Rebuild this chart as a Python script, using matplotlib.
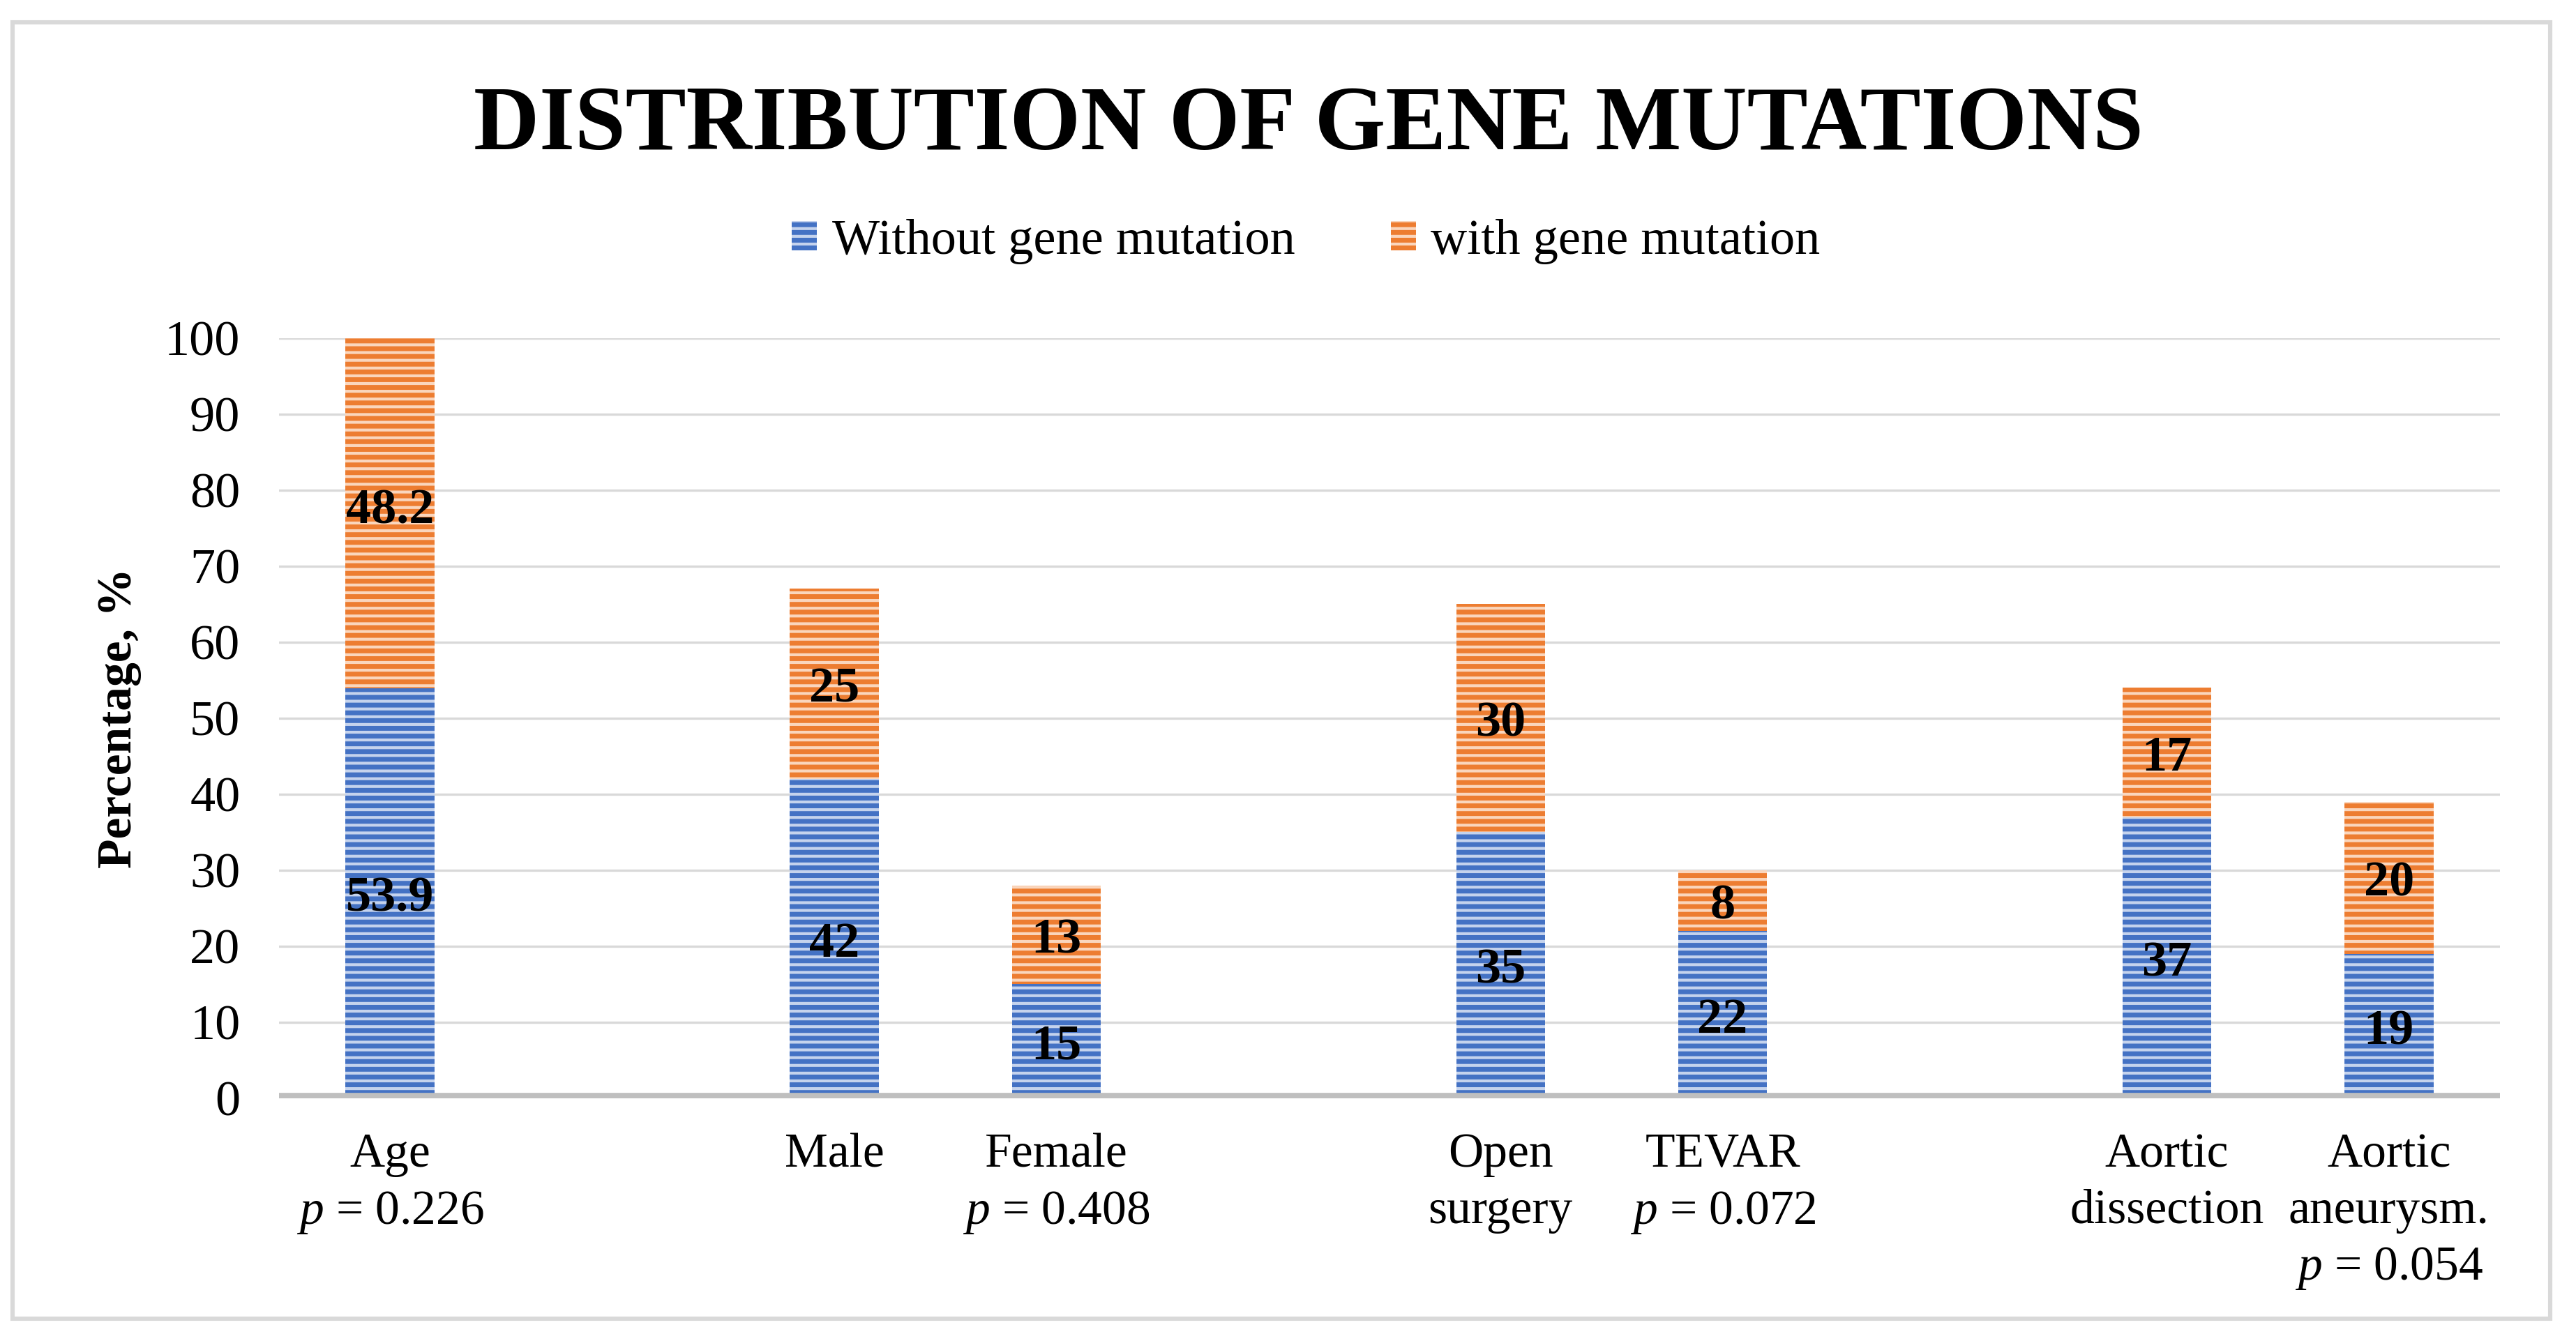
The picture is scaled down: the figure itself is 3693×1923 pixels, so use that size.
import numpy as np
import matplotlib
matplotlib.use('Agg')
import matplotlib.pyplot as plt
from matplotlib.patches import Rectangle

plt.rcParams['font.family'] = ['Liberation Serif', 'DejaVu Serif']
plt.rcParams['mathtext.fontset'] = 'custom'
plt.rcParams['mathtext.rm'] = 'Liberation Serif'
plt.rcParams['mathtext.it'] = 'Liberation Serif:italic'
plt.rcParams['hatch.linewidth'] = 1.5

# data (blank categories = gaps between groups, as in the original sheet)
categories = ['Age\n$p$ = 0.226', '',
              'Male', 'Female\n$p$ = 0.408', '',
              'Open\nsurgery', 'TEVAR\n$p$ = 0.072', '',
              'Aortic\ndissection', 'Aortic\naneurysm.\n$p$ = 0.054']
without_mut = [53.9, np.nan, 42, 15, np.nan, 35, 22, np.nan, 37, 19]
with_mut = [48.2, np.nan, 25, 13, np.nan, 30, 8, np.nan, 17, 20]
y_ticks = list(range(0, 101, 10))

blue = '#4472C4'
blue_light = '#C5D3ED'
orange = '#ED7D31'
orange_light = '#FAD6BD'

fig = plt.figure(figsize=(18.465, 9.615), dpi=200)
ax = fig.add_axes([0.1083, 0.181, 0.8622, 0.567])

x = np.arange(len(categories))
b1 = ax.bar(x, without_mut, width=0.4, color=blue, edgecolor=blue_light,
            hatch='---', linewidth=0, label='Without gene mutation', zorder=3)
b2 = ax.bar(x, with_mut, width=0.4, bottom=without_mut, color=orange,
            edgecolor=orange_light, hatch='---', linewidth=0,
            label='with gene mutation', zorder=3)

# value labels in the middle of each segment
for bottoms, vals in [([0] * len(x), without_mut), (without_mut, with_mut)]:
    for xi, b, v in zip(x, bottoms, vals):
        if np.isnan(v):
            continue
        ax.annotate('%g' % v, (xi, b + v / 2), xytext=(0, -3),
                    textcoords='offset points', ha='center', va='center',
                    fontsize=26, fontweight='bold', color='black',
                    annotation_clip=False, zorder=5)

ax.set_xlim(-0.5, len(categories) - 0.5)
ax.set_ylim(0, 100)
ax.set_yticks(y_ticks)
ax.set_xticks(x)
ax.set_xticklabels(categories, fontsize=25, linespacing=1.35)
ax.tick_params(axis='y', labelsize=26, length=0, pad=20)
ax.tick_params(axis='x', length=0, pad=18)
for s in ax.spines.values():
    s.set_visible(False)
ax.grid(axis='y', color='#D9D9D9', linewidth=1.2, zorder=0)
ax.axhline(0, color='#BFBFBF', linewidth=6, zorder=4)

ax.set_ylabel('Percentage, %', fontsize=25, fontweight='bold')
ax.yaxis.set_label_coords(-0.062, 0.5)

fig.text(0.508, 0.905, 'DISTRIBUTION OF GENE MUTATIONS', ha='center',
         va='center', fontsize=47, fontweight='bold')

fig.legend(handles=[b1, b2], loc='center', bbox_to_anchor=(0.507, 0.82),
           ncol=2, frameon=False, fontsize=26, handlelength=0.5,
           handleheight=0.5, handletextpad=0.3, columnspacing=1.9)

# outer chart frame
fig.patches.append(Rectangle((0.005, 0.0166), 0.985, 0.967,
                             transform=fig.transFigure, fill=False,
                             edgecolor='#D9D9D9', linewidth=2.2))

fig.savefig('out.png', dpi=200, facecolor='white')
